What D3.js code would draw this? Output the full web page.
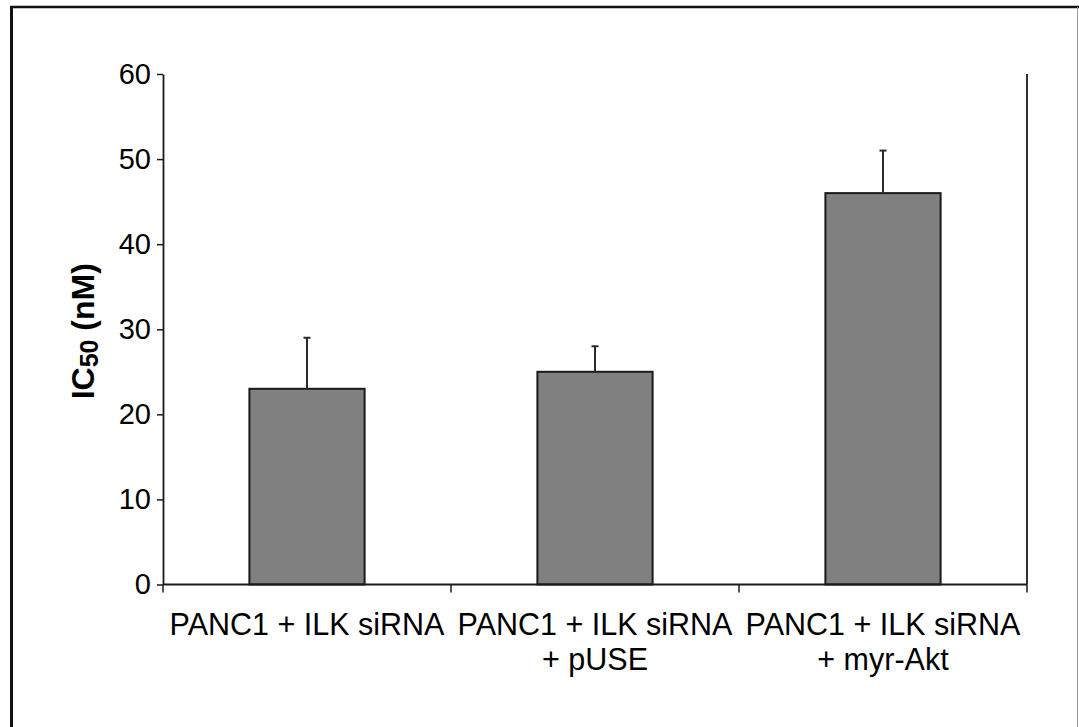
<!DOCTYPE html>
<html>
<head>
<meta charset="utf-8">
<script src="https://cdn.jsdelivr.net/npm/d3@7"></script>
<style>
  body { margin: 0; background: #fff; }
  svg { display: block; font-family: "Liberation Sans", Arial, Helvetica, sans-serif; }
</style>
</head>
<body>
<div id="chart"></div>
<script>
var categories = [
    ["PANC1 + ILK siRNA"],
    ["PANC1 + ILK siRNA", "+ pUSE"],
    ["PANC1 + ILK siRNA", "+ myr-Akt"]
];
var values = [23, 25, 46];
var errors = [6, 3, 5];   // upper error only
var yTicks = [0, 10, 20, 30, 40, 50, 60];

var width = 1079, height = 727;
var margin = {top: 74, right: 52, bottom: 142.5, left: 163};

var svg = d3.select("#chart").append("svg")
    .attr("width", width)
    .attr("height", height);

// outer frame of the figure
svg.append("line").attr("x1", 11.5).attr("x2", 11.5).attr("y1", 6).attr("y2", height)
    .attr("stroke", "#111").attr("stroke-width", 3);
svg.append("line").attr("x1", 10).attr("x2", width).attr("y1", 7).attr("y2", 7)
    .attr("stroke", "#111").attr("stroke-width", 2.5);
svg.append("line").attr("x1", 1077.5).attr("x2", 1077.5).attr("y1", 7).attr("y2", height)
    .attr("stroke", "#999").attr("stroke-width", 1);

var x = d3.scaleBand()
    .domain(d3.range(categories.length))
    .range([margin.left, width - margin.right])
    .paddingInner(0.6)
    .paddingOuter(0.3);

var y = d3.scaleLinear()
    .domain([0, 60])
    .range([height - margin.bottom, margin.top]);

var x0 = margin.left, x1 = width - margin.right;
var step = (x1 - x0) / categories.length;

// bars
svg.selectAll(".bar").data(values).enter()
    .append("rect")
    .attr("class", "bar")
    .attr("x", function(d, i) { return x(i); })
    .attr("y", function(d) { return y(d); })
    .attr("width", x.bandwidth())
    .attr("height", function(d) { return y(0) - y(d); })
    .attr("fill", "#808080")
    .attr("stroke", "#1a1a1a")
    .attr("stroke-width", 2);

// error bars (upper only)
var err = svg.selectAll(".err").data(values).enter().append("g").attr("class", "err");
err.append("line")
    .attr("x1", function(d, i) { return x(i) + x.bandwidth() / 2; })
    .attr("x2", function(d, i) { return x(i) + x.bandwidth() / 2; })
    .attr("y1", function(d) { return y(d); })
    .attr("y2", function(d, i) { return y(d + errors[i]); })
    .attr("stroke", "#2a2a2a").attr("stroke-width", 2);
err.append("line")
    .attr("x1", function(d, i) { return x(i) + x.bandwidth() / 2 - 3.5; })
    .attr("x2", function(d, i) { return x(i) + x.bandwidth() / 2 + 3.5; })
    .attr("y1", function(d, i) { return y(d + errors[i]); })
    .attr("y2", function(d, i) { return y(d + errors[i]); })
    .attr("stroke", "#2a2a2a").attr("stroke-width", 2);

// y axis
var yAxis = svg.append("g")
    .attr("transform", "translate(" + x0 + ",0)")
    .call(d3.axisLeft(y).tickValues(yTicks).tickSize(6).tickPadding(6).tickSizeOuter(0));
yAxis.select(".domain").attr("stroke", "#1a1a1a").attr("stroke-width", 1.8);
yAxis.selectAll(".tick line").attr("stroke", "#1a1a1a").attr("stroke-width", 1.5);
yAxis.selectAll(".tick text").attr("font-size", 29).attr("fill", "#000")
    .attr("font-family", "Liberation Sans, Arial, sans-serif");

// x axis line with ticks at category boundaries
svg.append("line")
    .attr("x1", x0).attr("x2", x1)
    .attr("y1", y(0)).attr("y2", y(0))
    .attr("stroke", "#1a1a1a").attr("stroke-width", 1.8);
svg.selectAll(".xtick").data(d3.range(categories.length + 1)).enter()
    .append("line")
    .attr("x1", function(d) { return x0 + d * step; })
    .attr("x2", function(d) { return x0 + d * step; })
    .attr("y1", y(0)).attr("y2", y(0) + 8)
    .attr("stroke", "#1a1a1a").attr("stroke-width", 1.5);

// right-hand border of the plot
svg.append("line")
    .attr("x1", x1).attr("x2", x1)
    .attr("y1", y(60)).attr("y2", y(0))
    .attr("stroke", "#1a1a1a").attr("stroke-width", 1.8);

// category labels
var lab = svg.selectAll(".cat").data(categories).enter()
    .append("text")
    .attr("class", "cat")
    .attr("text-anchor", "middle")
    .attr("font-size", 30.5)
    .attr("fill", "#000");
lab.selectAll("tspan").data(function(d, i) { return d.map(function(s) { return {s: s, i: i}; }); })
    .enter().append("tspan")
    .attr("x", function(d) { return x(d.i) + x.bandwidth() / 2; })
    .attr("y", function(d, j) { return 635 + j * 35; })
    .text(function(d) { return d.s; });

// y axis title
var title = svg.append("text")
    .attr("transform", "translate(94," + ((y(0) + y(60)) / 2 + 2) + ") rotate(-90)")
    .attr("text-anchor", "middle")
    .attr("font-size", 32)
    .attr("font-weight", "bold")
    .attr("fill", "#000");
title.append("tspan").text("IC");
title.append("tspan").attr("font-size", 25).attr("dy", 4).text("50");
title.append("tspan").attr("dy", -4).text(" (nM)");
</script>
</body>
</html>
